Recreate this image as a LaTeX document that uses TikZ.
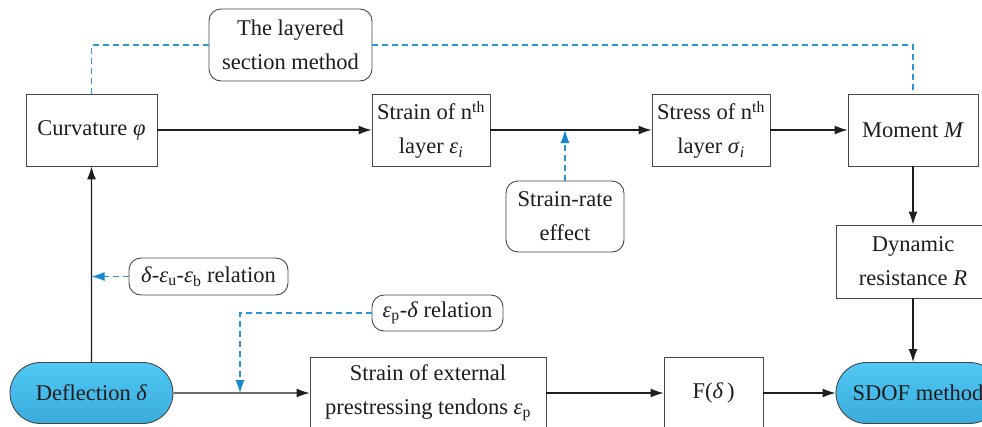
\documentclass[tikz,border=0pt]{standalone}
\usepackage{fontspec}
\setmainfont{Liberation Serif}
\usetikzlibrary{arrows.meta,shapes.misc}
\definecolor{dashblue}{RGB}{45,150,215}
\definecolor{tipblue}{RGB}{20,135,205}
\definecolor{filltop}{RGB}{80,200,245}
\definecolor{fillbot}{RGB}{58,172,220}
\definecolor{edgegray}{RGB}{70,70,70}
\definecolor{arrowblack}{RGB}{30,30,30}
\definecolor{textdark}{RGB}{30,28,30}
\newcommand{\ie}[1]{\textit{#1}}
\tikzset{
  txt/.style={font=\rmfamily\fontsize{22.5}{34}\selectfont, align=center, inner sep=0pt, text=textdark},
  sqbox/.style={txt, draw=edgegray, line width=0.9pt},
  rbox/.style={txt, draw=edgegray, line width=0.9pt, rounded corners=12pt},
  pill/.style={txt, rounded rectangle, draw=edgegray, line width=0.9pt, top color=filltop, bottom color=fillbot},
  arr/.style={draw=arrowblack, line width=1.1pt, -{Latex[length=13pt,width=9pt]}},
  dashln/.style={draw=dashblue, line width=1.1pt, dash pattern=on 6pt off 4pt},
  dasharr/.style={dashln, -{Latex[length=13pt,width=9pt,fill=tipblue,color=tipblue]}}
}
\begin{document}
\begin{tikzpicture}[x=1pt,y=-1pt]
\useasboundingbox (0,0) rectangle (982,426);
\clip (0,0) rectangle (982,426);
% top row
\node[sqbox, minimum width=131pt, minimum height=72pt] (curv) at (91.5,130) {Curvature \ie{φ}};
\node[sqbox, minimum width=118pt, minimum height=72pt] (strain) at (431,130) {Strain of n\textsuperscript{th}\\layer \ie{ε}\textsubscript{\ie{i}}};
\node[sqbox, minimum width=118pt, minimum height=72pt] (stress) at (711,130) {Stress of n\textsuperscript{th}\\layer \ie{σ}\textsubscript{\ie{i}}};
\node[sqbox, minimum width=130pt, minimum height=72pt] (moment) at (913,130) {Moment \ie{M}};
\node[rbox, minimum width=163pt, minimum height=72pt] (layer) at (290.5,45) {The layered\\section method};
\node[rbox, minimum width=118pt, minimum height=71pt] (rate) at (565,216.5) {Strain-rate\\effect};
\node[sqbox, minimum width=154pt, minimum height=73pt] (dyn) at (913,261.5) {Dynamic\\resistance \ie{R}};
\node[rbox, minimum width=159pt, minimum height=37pt] (rel1) at (208.5,276.5) {\ie{δ}-\ie{ε}\textsubscript{u}-\ie{ε}\textsubscript{b} relation};
\node[rbox, minimum width=131pt, minimum height=36pt] (rel2) at (437.5,313) {\ie{ε}\textsubscript{p}-\ie{δ} relation};
% bottom row
\node[pill, minimum width=163pt, minimum height=61pt] (defl) at (91.5,393) {Deflection \ie{δ}};
\node[sqbox, minimum width=236pt, minimum height=72pt] (tend) at (428,393) {Strain of external\\prestressing tendons \ie{ε}\textsubscript{p}};
\node[sqbox, minimum width=99pt, minimum height=72pt] (F) at (713.5,393) {F(\ie{δ}\,)};
\node[pill, minimum width=164pt, minimum height=61pt] (sdof) at (918,393) {SDOF method};
\coordinate (j) at (240,393);
% connectors
\draw[arr] (curv) -- (strain);
\draw[arr] (strain) -- (stress);
\draw[arr] (stress) -- (moment);
\draw[arr] (moment.south) -- (moment.south |- dyn.north);
\draw[arr] (dyn.south) -- (dyn.south |- sdof.north);
\draw[arr] (defl) -- (curv);
\draw[arr] (defl) -- (tend);
\draw[arr] (tend) -- (F);
\draw[arr] (F) -- (sdof);
\draw[dashln] (curv.north) |- (layer.west);
\draw[dashln] (layer.east) -| (moment.north);
\draw[dasharr] (rate.north) -- (rate.north |- strain.east);
\draw[dasharr] (rel1.west) -- (rel1.west -| curv.south);
\draw[dasharr] (rel2.west) -| (j);
\end{tikzpicture}
\end{document}
